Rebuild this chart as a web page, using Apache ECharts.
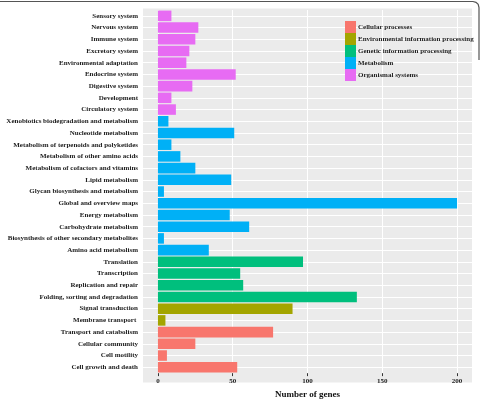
<!DOCTYPE html>
<html><head><meta charset="utf-8">
<script src="https://cdn.jsdelivr.net/npm/echarts@6/dist/echarts.min.js"></script>
<style>html,body{margin:0;padding:0;background:#fff}#c{width:482px;height:404px}</style>
</head><body><div id="c"></div>
<script>
const categories = [
  'Sensory system','Nervous system','Immune system','Excretory system','Environmental adaptation',
  'Endocrine system','Digestive system','Development','Circulatory system',
  'Xenobiotics biodegradation and metabolism','Nucleotide metabolism','Metabolism of terpenoids and polyketides',
  'Metabolism of other amino acids','Metabolism of cofactors and vitamins','Lipid metabolism',
  'Glycan biosynthesis and metabolism','Global and overview maps','Energy metabolism',
  'Carbohydrate metabolism','Biosynthesis of other secondary metabolites','Amino acid metabolism',
  'Translation','Transcription','Replication and repair','Folding, sorting and degradation',
  'Signal transduction','Membrane transport ',
  'Transport and catabolism','Cellular community','Cell motility','Cell growth and death'
];
const values = [9,27,25,21,19,52,23,9,12, 7,51,9,15,25,49,4,200,48,61,4,34, 97,55,57,133, 90,5, 77,25,6,53];
const groupOf = [4,4,4,4,4,4,4,4,4, 3,3,3,3,3,3,3,3,3,3,3,3, 2,2,2,2, 1,1, 0,0,0,0];
const groups = ['Cellular processes','Environmental information processing','Genetic information processing','Metabolism','Organismal systems'];
const groupColors = ['#F8766D','#A3A500','#00BF7D','#00B0F6','#E76BF3'];
const xTicks = [0,50,100,150,200];

const FONT = 'Liberation Serif';
const chart = echarts.init(document.getElementById('c'), null, {renderer:'canvas'});

const barSeries = groups.map((g, gi) => ({
  name: g, type: 'bar', stack: 'all', z: 3,
  barCategoryGap: '10%',
  itemStyle: {color: groupColors[gi]},
  data: values.map((v, i) => groupOf[i] === gi ? v : '-'),
  animation: false
}));

const gridSeries = {
  type: 'line', data: [], z: 1, silent: true, animation: false,
  markLine: {
    z: 1, silent: true, animation: false, symbol: ['none','none'],
    label: {show: false},
    lineStyle: {color: '#ffffff', width: 1, type: 'solid'},
    emphasis: {disabled: true},
    data: categories.map(c => ({yAxis: c})).concat(xTicks.map(v => ({xAxis: v})))
  }
};

chart.setOption({
  animation: false,
  backgroundColor: '#ffffff',
  grid: {left: 143, right: 10, top: 10, bottom: 22, containLabel: false},
  graphic: [
    {type: 'rect', z: -10, shape: {x: 143, y: 8.5, width: 329, height: 374}, style: {fill: '#EBEBEB'}},
    {type: 'polyline', z: 10, shape: {points: [[0,1.5],[473,1.5],[476,2.3],[478.2,4.3],[479,7.5],[479,60]]}, style: {fill: null, stroke: '#555', lineWidth: 1.2}}
  ],
  legend: {
    data: groups, orient: 'vertical', left: 340, top: 16,
    itemWidth: 11, itemHeight: 12, itemGap: 0, icon: 'rect',
    textStyle: {fontFamily: FONT, fontWeight: 'bold', fontSize: 7, color: '#222', padding: [0,0,0,-3]},
    selectedMode: false
  },
  xAxis: {
    type: 'value', min: -10, max: 210,
    axisLine: {show: false},
    axisTick: {show: true, customValues: xTicks, length: 3, lineStyle: {color: '#333'}},
    axisLabel: {customValues: xTicks, fontFamily: FONT, fontWeight: 'bold', fontSize: 7, color: '#222', margin: 5},
    splitLine: {show: false},
    name: 'Number of genes', nameLocation: 'middle', nameGap: 16,
    nameTextStyle: {fontFamily: FONT, fontWeight: 'bold', fontSize: 9, color: '#111'}
  },
  yAxis: {
    type: 'category', data: categories, inverse: true,
    axisLine: {show: false},
    axisTick: {show: true, alignWithLabel: true, length: 3, lineStyle: {color: '#333'}},
    axisLabel: {fontFamily: FONT, fontWeight: 'bold', fontSize: 7, color: '#222', margin: 5, interval: 0},
    splitLine: {show: false}
  },
  series: barSeries.concat([gridSeries])
});
</script></body></html>
